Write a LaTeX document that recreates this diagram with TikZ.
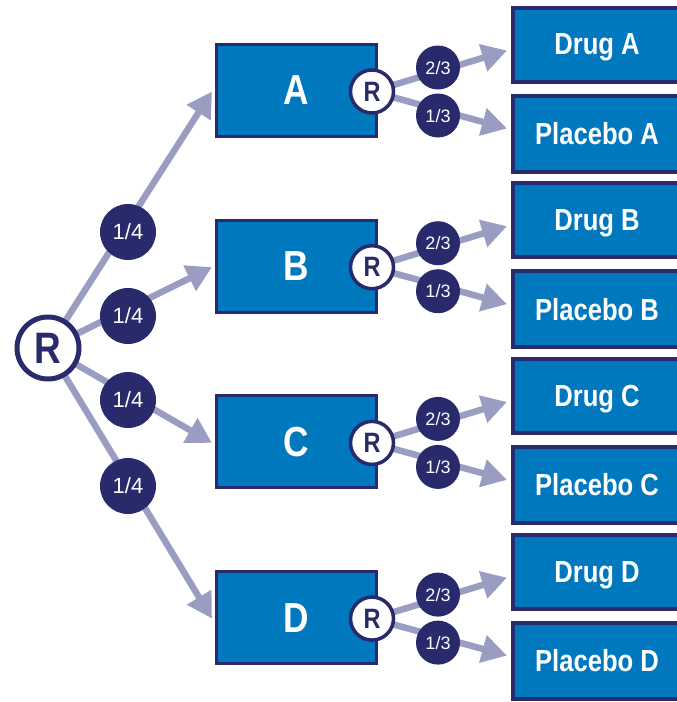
\documentclass[tikz,border=0pt]{standalone}
\usepackage{fontspec}
\setmainfont{Liberation Sans}
\newfontfamily\condfont{Liberation Sans}[FakeStretch=0.84]
\usetikzlibrary{arrows.meta,calc,backgrounds}
\definecolor{boxblue}{RGB}{0,120,190}
\definecolor{navy}{RGB}{40,42,108}
\definecolor{arrowgray}{RGB}{154,156,194}
\begin{document}
\begin{tikzpicture}[x=1pt,y=-1pt,
  armbox/.style={draw=navy, line width=3pt, fill=boxblue, minimum width=160pt,
    minimum height=92pt, inner sep=0pt, text=white, text depth=0pt,
    font=\condfont\bfseries\fontsize{42}{42}\selectfont},
  drugbox/.style={draw=navy, line width=4pt, fill=boxblue, minimum width=168pt,
    inner sep=0pt, text=white, text depth=0pt,
    font=\condfont\bfseries\fontsize{30.5}{30.5}\selectfont},
  rbig/.style={circle, draw=navy, line width=5pt, fill=white, minimum size=62pt,
    inner sep=0pt, text=navy, text depth=0pt,
    font=\condfont\bfseries\fontsize{44}{44}\selectfont},
  rsmall/.style={circle, draw=navy, line width=3.5pt, fill=white, minimum size=43pt,
    inner sep=0pt, text=navy, text depth=0pt,
    font=\condfont\bfseries\fontsize{28}{28}\selectfont},
  quarter/.style={circle, fill=navy, minimum size=56pt, inner sep=0pt, text=white,
    text depth=0pt, font=\fontsize{22}{22}\selectfont},
  third/.style={circle, fill=navy, minimum size=44pt, inner sep=0pt, text=white,
    text depth=0pt, font=\fontsize{18}{18}\selectfont},
  arrowline/.style={draw=arrowgray, line width=6.5pt,
    -{Triangle[length=25pt,width=27pt]}},
]
\clip (0,0) rectangle (677,702);

% first randomisation
\node[rbig] (R) at (48,348) {R};

% treatment arms, each with its own drug / placebo split
\foreach \L/\i in {A/0,B/1,C/2,D/3} {
  \pgfmathsetmacro\yc{90.5+175.7*\i}
  \node[armbox] (arm\L) at (296.5,\yc) {\L};
  \node[rsmall] (r\L) at (372,\yc+1) {R};
  \node[drugbox, minimum height=74pt] (drug\L) at (597,\yc-46) {Drug \L};
  \node[drugbox, minimum height=76pt] (plac\L) at (597,\yc+43) {Placebo \L};
  \node[third] (two\L) at (438,\yc-23) {2/3};
  \node[third] (one\L) at (438,\yc+25) {1/3};
  \begin{scope}[on background layer]
    \draw[arrowline] (R.center) -- ($(arm\L.west)+(-3,1)$);
    \draw[arrowline] (r\L.center) -- ($(drug\L.west)+(-4,6)$);
    \draw[arrowline] (r\L.center) -- ($(plac\L.west)+(-4,-5)$);
  \end{scope}
}

% allocation ratios of the first randomisation
\node[quarter] (qA) at (128,232) {1/4};
\node[quarter] (qB) at (128,316) {1/4};
\node[quarter] (qC) at (128,400) {1/4};
\node[quarter] (qD) at (128,486) {1/4};
\end{tikzpicture}
\end{document}
